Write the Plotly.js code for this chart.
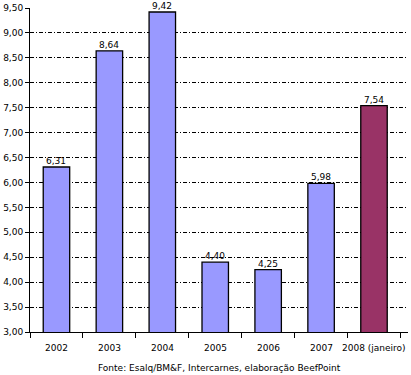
<!DOCTYPE html>
<html><head><meta charset="utf-8">
<script src="https://cdn.plot.ly/plotly-3.0.1.min.js"></script>
<style>body{margin:0;background:#fff}#c{width:411px;height:375px}</style>
</head><body><div id="c"></div>
<script>
const categories = ["2002","2003","2004","2005","2006","2007","2008 (janeiro)"];
const values = [6.31, 8.64, 9.42, 4.40, 4.25, 5.98, 7.54];
const labels = ["6,31","8,64","9,42","4,40","4,25","5,98","7,54"];
const barColors = ["#9999FF","#9999FF","#9999FF","#9999FF","#9999FF","#9999FF","#993366"];
const yTicks = [3,3.5,4,4.5,5,5.5,6,6.5,7,7.5,8,8.5,9,9.5];
const yTickText = ["3,00","3,50","4,00","4,50","5,00","5,50","6,00","6,50","7,00","7,50","8,00","8,50","9,00","9,50"];
const source = "Fonte: Esalq/BM&F, Intercarnes, elaboração BeefPoint";

const font = {family: "DejaVu Sans, Verdana, sans-serif", size: 9, color: "#000"};
const idx = categories.map((c, i) => i);
const labelAnns = idx.map(i => ({
  x: i, y: values[i], text: labels[i], xref: "x", yref: "y",
  showarrow: false, yanchor: "bottom", yshift: -1, font: font
}));
const catAnns = idx.map(i => ({
  x: i, y: 0, text: categories[i], xref: "x", yref: "paper",
  showarrow: false, yanchor: "top", yshift: -9, font: font
}));
Plotly.newPlot("c", [{
  type: "bar", x: categories, y: values, width: 0.5,
  marker: {color: barColors, line: {color: "#000", width: 1.3}},
  hoverinfo: "none"
}], {
  width: 411, height: 375,
  margin: {l: 30, r: 3, t: 8, b: 43},
  paper_bgcolor: "#fff", plot_bgcolor: "#fff",
  font: font, showlegend: false,
  xaxis: {type: "category", categoryarray: categories, categoryorder: "array",
    showline: true, linecolor: "#000", linewidth: 1,
    ticks: "outside", tickson: "boundaries", ticklen: 5, tickcolor: "#000",
    showticklabels: false, showgrid: false, zeroline: false, fixedrange: true},
  yaxis: {range: [3, 9.5], tickvals: yTicks, ticktext: yTickText,
    showline: true, linecolor: "#000", linewidth: 1, ticks: "outside", ticklen: 4,
    tickcolor: "#000", showgrid: true, gridcolor: "#000", gridwidth: 1,
    griddash: "4px,2px,1px,2px", zeroline: false, tickfont: font, fixedrange: true},
  annotations: labelAnns.concat(catAnns, [{text: source, xref: "paper", yref: "paper", x: 0.5, y: 0,
    yshift: -29, yanchor: "top", xanchor: "center", showarrow: false, font: font}])
}, {displayModeBar: false, staticPlot: true});
</script></body></html>
